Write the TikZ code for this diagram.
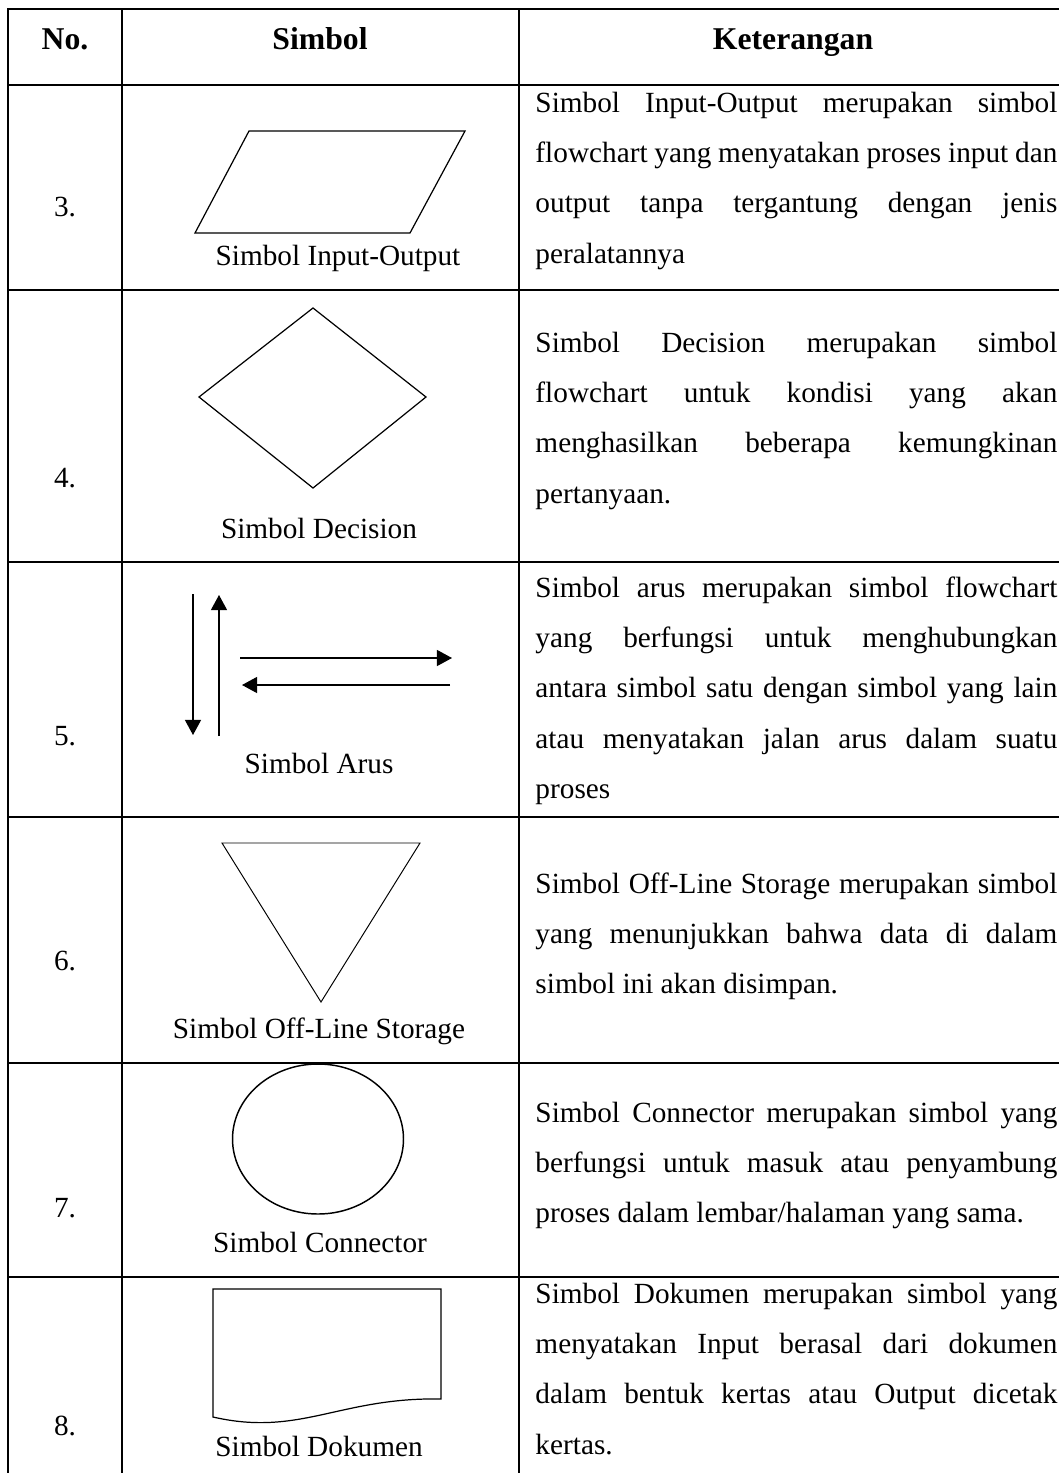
\documentclass[tikz,border=0pt]{standalone}
\usepackage{fontspec}
\setmainfont{Liberation Serif}
\usetikzlibrary{arrows.meta}
\newlength{\ketw}
\setlength{\ketw}{214pt}
\newcommand{\ketcell}[1]{\parbox[t]{\ketw}{\fontsize{12}{20.7}\selectfont
  \tolerance=10000 \hyphenpenalty=10000 \exhyphenpenalty=10000 #1}}
\begin{document}
\begin{tikzpicture}[x=0.41pt,y=-0.41pt,
  tabel/.style={line width=0.8pt,line cap=rect},
  simbol/.style={line width=0.5pt},
  teks/.style={inner sep=0pt,anchor=base,font=\fontsize{12}{14}\selectfont},
  judul/.style={teks,font=\fontsize{13}{15}\selectfont\bfseries},
  panah/.style={simbol,-{Triangle[length=6.2pt,width=6.6pt]}}]
\clip (0,0) rectangle (1059,1473);
% garis tabel
\foreach \y in {9,85,290,562,817,1063,1277}
  \draw[tabel] (8,\y) -- (1075,\y);
\foreach \x in {8,122,519}
  \draw[tabel] (\x,9) -- (\x,1480);
% judul kolom
\node[judul] (hno) at (65,49) {No.};
\node[judul] (hsimbol) at (320,49) {Simbol};
\node[judul] (hket) at (793,49) {Keterangan};
% nomor
\foreach \n/\y in {3/216,4/487,5/745,6/970,7/1217,8/1435}
  \node[teks] (no\n) at (65,\y) {\n.};
% simbol input-output
\draw[simbol] (249,131) -- (465,131) -- (410,233) -- (195,233) -- cycle;
\node[teks] (lio) at (338,265) {Simbol Input-Output};
% simbol decision
\draw[simbol] (313,308) -- (426,397) -- (313,488) -- (199,397) -- cycle;
\node[teks] (ldec) at (319,538) {Simbol Decision};
% simbol arus
\draw[panah] (193,594) -- (193,735);
\draw[panah] (219,736) -- (219,595);
\draw[panah] (240,658) -- (452,658);
\draw[panah] (450,685) -- (242,685);
\node[teks] (larus) at (319,773) {Simbol Arus};
% simbol off-line storage
\draw[line width=0.4pt] (222,843) -- (420,843) -- (321,1002) -- cycle;
\node[teks] (lstor) at (319,1038) {Simbol Off-Line Storage};
% simbol connector
\draw[line width=0.6pt] (318,1139) circle [x radius=35.05pt, y radius=30.75pt];
\node[teks] (lconn) at (320,1252) {Simbol Connector};
% simbol dokumen
\draw[simbol] (213,1417) -- (213,1289) -- (441,1289) -- (441,1399)
  .. controls (340,1397) and (300,1437) .. (213,1417) -- cycle;
\node[teks] (ldok) at (319,1456) {Simbol Dokumen};
% keterangan
\node[teks,anchor=base west] (ket3) at (535,112) {\ketcell{Simbol Input-Output merupakan simbol\linebreak
  flowchart yang menyatakan proses input dan\linebreak
  output tanpa tergantung dengan jenis\linebreak
  peralatannya}};
\node[teks,anchor=base west] (ket4) at (535,352) {\ketcell{Simbol Decision merupakan simbol\linebreak
  flowchart untuk kondisi yang akan\linebreak
  menghasilkan beberapa kemungkinan\linebreak
  pertanyaan.}};
\node[teks,anchor=base west] (ket5) at (535,597) {\ketcell{Simbol arus merupakan simbol flowchart\linebreak
  yang berfungsi untuk menghubungkan\linebreak
  antara simbol satu dengan simbol yang lain\linebreak
  atau menyatakan jalan arus dalam suatu\linebreak
  proses}};
\node[teks,anchor=base west] (ket6) at (535,893) {\ketcell{Simbol Off-Line Storage merupakan simbol\linebreak
  yang menunjukkan bahwa data di dalam\linebreak
  simbol ini akan disimpan.}};
\node[teks,anchor=base west] (ket7) at (535,1122) {\ketcell{Simbol Connector merupakan simbol yang\linebreak
  berfungsi untuk masuk atau penyambung\linebreak
  proses dalam lembar/halaman yang sama.}};
\node[teks,anchor=base west] (ket8) at (535,1303) {\ketcell{Simbol Dokumen merupakan simbol yang\linebreak
  menyatakan Input berasal dari dokumen\linebreak
  dalam bentuk kertas atau Output dicetak\linebreak
  kertas.}};
\end{tikzpicture}
\end{document}
